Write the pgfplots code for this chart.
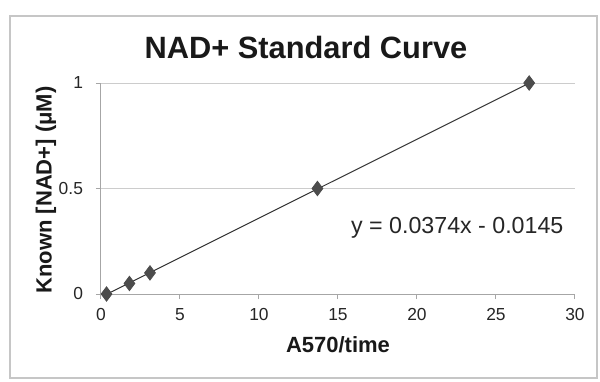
\documentclass[border=0pt]{standalone}
\usepackage{fontspec}
\setmainfont{Liberation Sans}
\usepackage{pgfplots}
\pgfplotsset{compat=1.18}
\begin{document}
\begin{tikzpicture}[x=1pt,y=1pt]
% picture bounds (1px = 0.5pt), axis origin at px (101,294)
\fill[white] (-50.5,-43.5) rectangle (249.5,147);
\draw[gray!45, line width=0.6pt] (-45.5,-42) rectangle (248,139);
\begin{axis}[
  at={(0,0)}, anchor=origin,
  scale only axis,
  width=237pt, height=105.5pt,
  xmin=0, xmax=30, ymin=0, ymax=1,
  xtick={0,5,...,30}, ytick={0,0.5,1},
  yticklabels={0,0.5,1},
  axis x line*=bottom, axis y line*=left,
  axis line style={draw=gray!70, line width=0.5pt},
  tick style={draw=gray!70, line width=0.5pt},
  xtick align=outside, ytick align=outside,
  major tick length=2.5pt,
  ymajorgrids, grid style={draw=gray!40, line width=0.5pt},
  /pgf/number format/assume math mode=true,
  tick label style={font=\fontsize{8.7}{10}\selectfont, text=black!85},
  xticklabel style={yshift=-1pt},
  yticklabel style={xshift=-3pt},
  clip=false,
]
\addplot[black!80, line width=0.5pt] coordinates {(0.39,0.0001) (27.1,0.9990)};
\addplot[only marks, mark=diamond*, mark size=3.6pt, mark options={fill=black!70, draw=black!70}]
  coordinates {(0.35,0) (1.8,0.05) (3.1,0.1) (13.7,0.5) (27.1,1.0)};
\node[font=\fontsize{11.6}{13}\selectfont, text=black!85] at (axis cs:22.55,0.315) {y = 0.0374x - 0.0145};
\end{axis}
\node[font=\bfseries\fontsize{15.4}{18}\selectfont, text=black!90] at (102.5,123.5) {NAD+ Standard Curve};
\node[font=\bfseries\fontsize{11}{13}\selectfont, text=black!90] at (118.5,-25.5) {A570/time};
\node[font=\bfseries\fontsize{11}{13}\selectfont, text=black!90, rotate=90] at (-27.5,52) {Known [NAD+] (μM)};
\end{tikzpicture}
\end{document}
